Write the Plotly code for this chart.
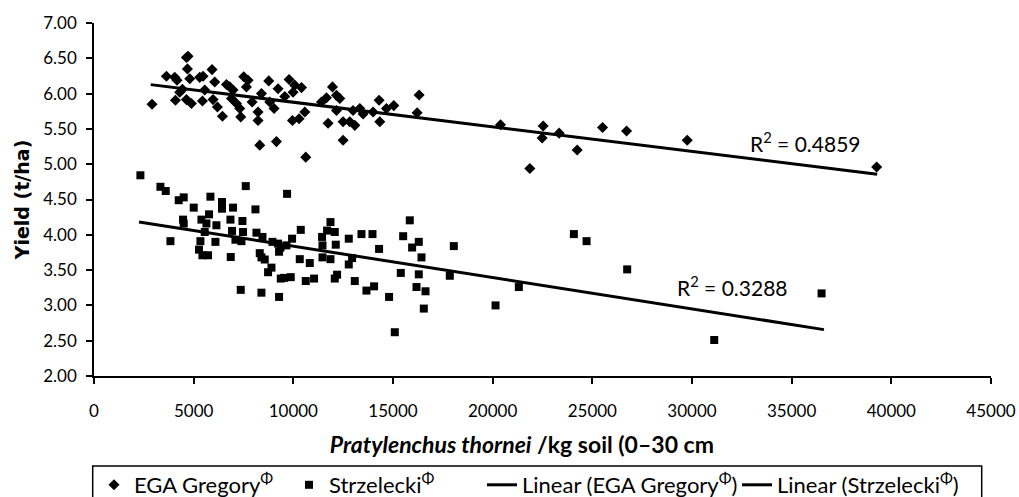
import plotly.graph_objects as go

# ---- data ----
ega_x = [2911, 3633, 4050, 4165, 4637, 4718, 4687, 4803, 4436, 4301, 4085, 4637, 4888,
         5304, 5471, 5555, 5440, 5922, 6057, 5972, 6192, 6443, 6644, 6810, 6976, 6895,
         7146, 7362, 7312, 7513, 7730, 7647, 7930, 8230, 8230, 8315, 8400, 8818, 8767,
         9033, 9153, 9234, 9570, 9786, 9987, 10070, 10408, 9956, 10288, 10574, 10624,
         11411, 11663, 11964, 12165, 12330, 12165, 11743, 12496, 12496, 12832, 12997,
         13083, 13334, 13500, 14001, 14302, 14337, 14672, 15040, 16310, 16210, 20394,
         22533, 22482, 23336, 21865, 24240, 25512, 26717, 29760, 39264]
ega_y = [5.85, 6.245, 6.23, 6.19, 6.51, 6.53, 6.35, 6.21, 6.06, 6.02, 5.905, 5.915, 5.86,
         6.23, 6.245, 6.05, 5.895, 6.34, 6.165, 5.915, 5.81, 5.68, 6.13, 6.095, 6.05, 5.93,
         5.86, 5.67, 5.79, 6.24, 6.19, 6.095, 5.88, 5.74, 5.62, 5.27, 6.00, 5.88, 6.18,
         5.79, 5.32, 6.07, 5.96, 6.20, 6.02, 6.12, 6.085, 5.62, 5.645, 5.74, 5.10,
         5.88, 5.94, 6.095, 5.975, 5.93, 5.76, 5.58, 5.60, 5.34, 5.60, 5.76,
         5.55, 5.79, 5.71, 5.74, 5.905, 5.60, 5.79, 5.83, 5.98, 5.73, 5.56,
         5.54, 5.37, 5.44, 4.94, 5.20, 5.52, 5.47, 5.34, 4.96]

str_x = [2328, 3332, 3598, 4250, 4501, 5841, 5003, 6423, 6423, 6976, 7613, 8099, 9686,
         4467, 4501, 5390, 5771, 5640, 6142, 6845, 7447, 7477, 6925, 5555, 3834, 5339,
         6092, 7096, 7397, 8150, 8451, 5269, 5440, 5721, 6860, 8315, 8400, 8566, 8902,
         8733, 8953, 9234, 9354, 9284, 9653, 9937, 10373, 9370, 9535, 9871, 7362, 8400,
         9284, 10323, 10825, 10624, 11040, 11442, 11462, 11693, 11863, 12079, 12129,
         11462, 11863, 12195, 12079, 12781, 13418, 13970, 12948, 12781, 13083, 13669,
         14051, 14302, 14804, 15843, 15509, 16294, 15959, 16430, 18051, 15391, 16294,
         17850, 16179, 16631, 16545, 15090, 20144, 21312, 24073, 24710, 26748, 31115, 36500]
str_y = [4.843, 4.68, 4.62, 4.49, 4.53, 4.54, 4.385, 4.465, 4.37, 4.385, 4.69, 4.36, 4.58,
         4.215, 4.16, 4.215, 4.29, 4.16, 4.135, 4.215, 4.195, 4.04, 4.055, 4.04, 3.91, 3.91,
         3.90, 3.93, 3.91, 4.03, 3.97, 3.79, 3.71, 3.71, 3.685, 3.74, 3.68, 3.65, 3.535,
         3.47, 3.90, 3.875, 3.82, 3.76, 3.85, 3.945, 4.07, 3.38, 3.39, 3.40, 3.22, 3.18,
         3.12, 3.655, 3.60, 3.345, 3.38, 3.97, 3.85, 4.06, 4.18, 4.04, 3.86,
         3.68, 3.655, 3.435, 3.38, 3.945, 4.01, 4.01, 3.67, 3.58, 3.345, 3.21,
         3.27, 3.80, 3.12, 4.205, 3.98, 3.90, 3.82, 3.68, 3.84, 3.46, 3.44,
         3.42, 3.26, 3.20, 2.955, 2.62, 3.00, 3.26, 4.01, 3.91, 3.51, 2.51, 3.17]

ega_trend_x = [2845, 39290]
ega_trend_y = [6.127, 4.857]
str_trend_x = [2258, 36620]
str_trend_y = [4.182, 2.657]

ega_r2 = "R<sup>2</sup> = 0.4859"
str_r2 = "R<sup>2</sup> = 0.3288"

x_ticks = [0, 5000, 10000, 15000, 20000, 25000, 30000, 35000, 40000, 45000]
y_ticks = [2.0, 2.5, 3.0, 3.5, 4.0, 4.5, 5.0, 5.5, 6.0, 6.5, 7.0]

# ---- layout geometry (pixels) ----
W, H = 1019, 497
L, R, T, B = 94, 28, 23, 121
pw = W - L - R
ph = H - T - B

def px_to_paper_x(px):
    return (px - L) / pw

def py_to_paper_y(py):
    return (H - B - py) / ph

FONT = "Lato, 'Open Sans', sans-serif"
phi = "<sup>Φ</sup>"

fig = go.Figure()
fig.add_trace(go.Scatter(x=ega_x, y=ega_y, mode="markers", name="EGA Gregory" + phi,
                         marker=dict(symbol="diamond", size=8.5, color="black"),
                         legend="legend"))
fig.add_trace(go.Scatter(x=str_x, y=str_y, mode="markers", name="Strzelecki" + phi,
                         marker=dict(symbol="square", size=8, color="black"),
                         legend="legend2"))
fig.add_trace(go.Scatter(x=ega_trend_x, y=ega_trend_y, mode="lines",
                         name="Linear (EGA Gregory" + phi + ")",
                         line=dict(color="black", width=3), legend="legend3"))
fig.add_trace(go.Scatter(x=str_trend_x, y=str_trend_y, mode="lines",
                         name="Linear (Strzelecki" + phi + ")",
                         line=dict(color="black", width=3), legend="legend4"))

fig.add_annotation(x=32800, y=5.31, text=ega_r2, showarrow=False, xanchor="left",
                   yanchor="middle", font=dict(family=FONT, size=21, color="black"))
fig.add_annotation(x=29150, y=3.28, text=str_r2, showarrow=False, xanchor="left",
                   yanchor="middle", font=dict(family=FONT, size=21, color="black"))

leg_common = dict(orientation="h", xanchor="left", yanchor="middle",
                  bgcolor="rgba(0,0,0,0)", borderwidth=0,
                  font=dict(family=FONT, size=22, color="black"))
leg_y = py_to_paper_y(485)
item_px = [94, 289, 482, 737]
legends = {}
for i, name in enumerate(["legend", "legend2", "legend3", "legend4"]):
    legends[name] = dict(leg_common, x=px_to_paper_x(item_px[i]), y=leg_y)

fig.add_shape(type="rect", xref="paper", yref="paper",
              x0=px_to_paper_x(92.7), x1=px_to_paper_x(981.7),
              y0=py_to_paper_y(466), y1=py_to_paper_y(520),
              line=dict(color="black", width=1.5), fillcolor="rgba(0,0,0,0)")

x_title = "<b><i>Pratylenchus thornei</i> /kg soil (0–30 cm</b>" + "&nbsp;" * 7

fig.update_layout(
    width=W, height=H,
    margin=dict(l=L, r=R, t=T, b=B, autoexpand=False),
    plot_bgcolor="white", paper_bgcolor="white",
    showlegend=True,
    **legends,
    xaxis=dict(range=[0, 45000], tickvals=x_ticks, tickformat="d",
               showgrid=False, zeroline=False, showline=True, linecolor="black",
               linewidth=1.5, ticks="outside", ticklen=6, tickwidth=1.5, tickcolor="black",
               ticklabelstandoff=13,
               tickfont=dict(family=FONT, size=17, color="black"),
               title=dict(text=x_title,
                          font=dict(family=FONT, size=23, color="black"), standoff=17)),
    yaxis=dict(range=[2, 7], tickvals=y_ticks, tickformat=".2f",
               showgrid=False, zeroline=False, showline=True, linecolor="black",
               linewidth=1.5, ticks="outside", ticklen=6, tickwidth=1.5, tickcolor="black",
               ticklabelstandoff=6,
               tickfont=dict(family=FONT, size=17, color="black"),
               title=dict(text="<b>Yield (t/ha)</b>",
                          font=dict(family="'DejaVu Sans', sans-serif", size=19,
                                    color="black"),
                          standoff=9)),
)

fig.write_html("out.html",
               config={"displayModeBar": False},
               post_script="document.body.style.margin='0px';document.body.style.overflow='hidden';")
